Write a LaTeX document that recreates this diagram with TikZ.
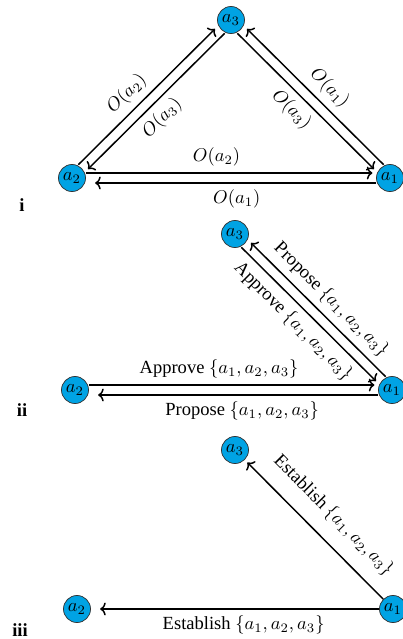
\documentclass[tikz,border=0pt]{standalone}
\usepackage[no-math]{fontspec}
\setmainfont{Liberation Serif}
\usetikzlibrary{arrows.meta}
\definecolor{agentblue}{RGB}{0,163,228}
\begin{document}
\begin{tikzpicture}[x=0.54pt, y=-0.54pt,
  agent/.style = {circle, draw=black!80, fill=agentblue,
    inner sep=0pt, minimum size=14.6pt},
  fwd/.style = {-{To[length=3pt,width=7pt]}, thick, shorten >=2pt},
  bwd/.style = {{To[length=3pt,width=7pt]}-, thick, shorten <=2pt}]
  \useasboundingbox (0,0) rectangle (402,639);
  % i
  \node[agent] (a3i) at (231,20) {$a_3$};
  \node[agent] (a2i) at (72,178) {$a_2$};
  \node[agent] (a1i) at (390,178) {$a_1$};
  \node[font=\bfseries] (li) at (22,205) {i};
  \draw[fwd, transform canvas={shift={(-1.9pt,1.9pt)}}] (a2i) -- node[above, sloped, pos=0.43] {$O(a_2)$} (a3i);
  \draw[bwd, transform canvas={shift={(1.9pt,-1.9pt)}}] (a2i) -- node[below, sloped, pos=0.47] {$O(a_3)$} (a3i);
  \draw[bwd, transform canvas={shift={(1.9pt,1.9pt)}}] (a3i) -- node[above, sloped, pos=0.53] {$O(a_1)$} (a1i);
  \draw[fwd, transform canvas={shift={(-1.9pt,-1.9pt)}}] (a3i) -- node[below, sloped, pos=0.47] {$O(a_3)$} (a1i);
  \draw[fwd, transform canvas={yshift=2.7pt}] (a2i) -- node[above, pos=0.45] {$O(a_2)$} (a1i);
  \draw[fwd, shorten >=5pt, transform canvas={yshift=-2.7pt}] (a1i) -- node[below, pos=0.48] {$O(a_1)$} (a2i);
  % ii
  \node[agent] (a3ii) at (235,234) {$a_3$};
  \node[agent] (a2ii) at (75,390) {$a_2$};
  \node[agent] (a1ii) at (392,390) {$a_1$};
  \node[font=\bfseries] (lii) at (22,410) {ii};
  \draw[bwd, transform canvas={shift={(1.9pt,1.9pt)}}] (a3ii) -- node[above, sloped, pos=0.52] {Propose $\{a_1, a_2, a_3\}$} (a1ii);
  \draw[fwd, transform canvas={shift={(-1.9pt,-1.9pt)}}] (a3ii) -- node[below, sloped, pos=0.46] {Approve $\{a_1, a_2, a_3\}$} (a1ii);
  \draw[fwd, transform canvas={yshift=2.7pt}] (a2ii) -- node[above, pos=0.45] {Approve $\{a_1, a_2, a_3\}$} (a1ii);
  \draw[fwd, shorten >=5pt, transform canvas={yshift=-2.7pt}] (a1ii) -- node[below, pos=0.47] {Propose $\{a_1, a_2, a_3\}$} (a2ii);
  % iii
  \node[agent] (a3iii) at (235,450) {$a_3$};
  \node[agent] (a2iii) at (77,609) {$a_2$};
  \node[agent] (a1iii) at (393,609) {$a_1$};
  \node[font=\bfseries] (liii) at (20,630) {iii};
  \draw[bwd] (a3iii) -- node[above=4pt, sloped, pos=0.52] {Establish $\{a_1, a_2, a_3\}$} (a1iii);
  \draw[fwd, shorten >=5pt] (a1iii) -- node[below, pos=0.47] {Establish $\{a_1, a_2, a_3\}$} (a2iii);
\end{tikzpicture}
\end{document}
